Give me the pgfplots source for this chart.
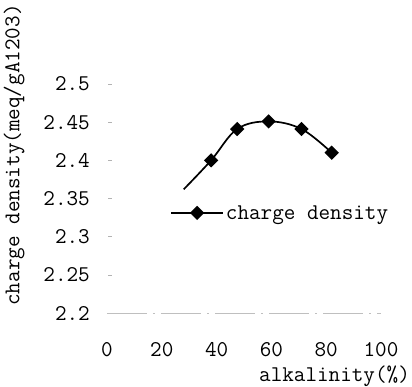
\documentclass[border=0pt]{standalone}
\usepackage{pgfplots}
\pgfplotsset{compat=1.18}
\usepackage{fontspec}
\newcommand{\F}{\ttfamily\fontsize{22.5}{24}\selectfont}
\begin{document}
\begin{tikzpicture}
\useasboundingbox (-107pt,-74pt) rectangle (305pt,313pt);
\begin{axis}[
  at={(0,0)}, anchor=south west,
  scale only axis, width=274pt, height=229pt,
  xmin=0, xmax=100, ymin=2.2, ymax=2.5,
  axis line style={draw=none},
  xtick style={draw=none},
  ytick style={draw=none},
  clip=false,
  xtick={0,20,40,60,80,100},
  ytick={2.2,2.25,2.3,2.35,2.4,2.45,2.5},
  yticklabels={2.2,2.25,2.3,2.35,2.4,2.45,2.5},
  xticklabels={0,20,40,60,80,100},
  ticklabel style={font=\F},
  xticklabel style={anchor=center, yshift=-37pt, inner sep=0pt},
  yticklabel style={anchor=east, xshift=-17pt, inner sep=0pt},
  /pgf/number format/assume math mode=true,
  xlabel={alkalinity(\%)},
  ylabel={charge density(meq/gA1203)},
  label style={font=\F},
  xlabel style={at={(axis description cs:1.106,0)}, anchor=north east, yshift=-53pt, inner sep=0pt},
  ylabel style={at={(axis description cs:-0.339,0.69)}, anchor=center, inner sep=0pt},
  legend style={draw=none, fill=none, at={(axis description cs:0.23,0.437)}, anchor=west, inner sep=0pt,
    font=\F, legend cell align=left},
  legend image code/.code={\draw[#1, mark indices={2}] plot coordinates {(0pt,0pt) (26pt,0pt) (52pt,0pt)};},
]
% faint gridline at 2.2
\addplot[gray!50, line width=0.6pt, dash pattern=on 40pt off 6pt on 2pt off 6pt, forget plot] coordinates {(0,2.2) (100,2.2)};
% small y tick marks
\addplot[gray!60, line width=0.5pt, only marks, mark=-, mark size=2pt, forget plot] coordinates {(1,2.25) (1,2.3) (1,2.35) (1,2.4) (1,2.45) (1,2.5)};
\addplot[black, line width=1.7pt, smooth, tension=0.6, mark=square*, mark indices={2,3,4,5,6},
  mark options={rotate=45, solid}, mark size=4.2pt]
  coordinates {(28,2.362) (38,2.400) (47.5,2.441) (59,2.451) (71,2.441) (82,2.410)};
\addlegendentry{charge density}
\end{axis}
\end{tikzpicture}
\end{document}
